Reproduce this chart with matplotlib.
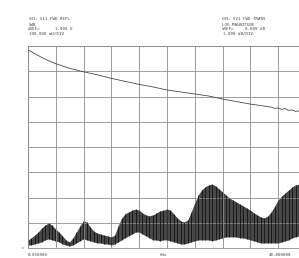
import matplotlib
matplotlib.use("Agg")
import matplotlib.pyplot as plt
import numpy as np

# CH1: S11 SWR (noisy lower trace), read as envelope every 0.5 GHz
freq_ghz = [0.05, 0.5, 1.0, 1.5, 2.0, 2.5, 3.0, 3.5, 4.0, 4.5, 5.0, 5.5, 6.0, 6.5,
            7.0, 7.5, 8.0, 8.5, 9.0, 9.5, 10.0, 10.5, 11.0, 11.5, 12.0, 12.5, 13.0,
            13.5, 14.0, 14.5, 15.0, 15.5, 16.0, 16.5, 17.0, 17.5, 18.0, 18.5, 19.0,
            19.5, 20.0, 20.5, 21.0, 21.5, 22.0, 22.5, 23.0, 23.5, 24.0, 24.5, 25.0,
            25.5, 26.0, 26.5, 27.0, 27.5, 28.0, 28.5, 29.0, 29.5, 30.0, 30.5, 31.0,
            31.5, 32.0, 32.5, 33.0, 33.5, 34.0, 34.5, 35.0, 35.5, 36.0, 36.5, 37.0,
            37.5, 38.0, 38.5, 39.0, 39.5, 40.0]
swr_hi = [1.032, 1.040, 1.051, 1.063, 1.079, 1.091, 1.099, 1.091, 1.075, 1.063, 1.048,
          1.032, 1.024, 1.040, 1.063, 1.087, 1.107, 1.103, 1.083, 1.067, 1.059, 1.055,
          1.051, 1.048, 1.044, 1.051, 1.087, 1.119, 1.135, 1.143, 1.150, 1.154, 1.150,
          1.139, 1.131, 1.127, 1.131, 1.139, 1.147, 1.150, 1.154, 1.150, 1.135, 1.119,
          1.107, 1.103, 1.111, 1.143, 1.178, 1.210, 1.230, 1.242, 1.250, 1.253, 1.246,
          1.234, 1.222, 1.210, 1.198, 1.190, 1.182, 1.174, 1.166, 1.158, 1.150, 1.139,
          1.131, 1.123, 1.119, 1.127, 1.143, 1.166, 1.190, 1.206, 1.218, 1.230, 1.242,
          1.250, 1.253, 1.257, 1.257]
swr_lo = [1.012, 1.012, 1.016, 1.020, 1.024, 1.032, 1.036, 1.032, 1.028, 1.024, 1.016,
          1.012, 1.008, 1.012, 1.020, 1.028, 1.036, 1.032, 1.028, 1.024, 1.020, 1.020,
          1.016, 1.016, 1.012, 1.016, 1.024, 1.032, 1.040, 1.048, 1.055, 1.063, 1.063,
          1.055, 1.048, 1.040, 1.032, 1.032, 1.028, 1.032, 1.032, 1.028, 1.024, 1.020,
          1.016, 1.016, 1.020, 1.024, 1.028, 1.032, 1.032, 1.032, 1.032, 1.028, 1.032,
          1.036, 1.040, 1.044, 1.044, 1.044, 1.044, 1.040, 1.040, 1.036, 1.032, 1.028,
          1.024, 1.020, 1.020, 1.020, 1.020, 1.020, 1.020, 1.024, 1.028, 1.032, 1.040,
          1.044, 1.048, 1.048, 1.048]

# CH3: S21 log magnitude (smooth upper trace)
s21_freq = [0.05, 1, 2, 3, 4, 6, 8, 10, 12, 14, 16, 18, 20, 22, 24, 26, 28, 30, 32,
            34, 35, 35.5, 36, 36.5, 37, 37.5, 38, 38.5, 39, 39.5, 40]
s21_db = [7.85, 7.70, 7.55, 7.42, 7.30, 7.12, 6.98, 6.86, 6.72, 6.60, 6.48, 6.38,
          6.26, 6.18, 6.10, 6.02, 5.90, 5.80, 5.70, 5.62, 5.58, 5.53, 5.55, 5.49,
          5.52, 5.45, 5.47, 5.41, 5.43, 5.37, 5.36]

W, H = 299, 258
fig = plt.figure(figsize=(W / 100, H / 100), dpi=100)
fig.patch.set_facecolor("white")

# plot area: x 28..306 px (cut off at right), y 46..248 px
ax = fig.add_axes([28 / W, 10 / H, 278 / W, 202 / H])
grid_c = "#8c8c8c"
ax.set_xlim(0.05, 40.0)
ax.set_ylim(1.0, 1.8)
ax.set_xticks(np.linspace(0.05, 40.0, 11))
ax.set_yticks(np.linspace(1.0, 1.8, 9))
ax.grid(True, color=grid_c, lw=0.6)
ax.tick_params(length=0, labelbottom=False, labelleft=False)
for s in ax.spines.values():
    s.set_color(grid_c)
    s.set_linewidth(0.6)

ax.fill_between(freq_ghz, swr_lo, swr_hi, color="#333333", alpha=0.9, lw=0)
ax.vlines(freq_ghz, swr_lo, swr_hi, color="#000000", lw=0.45)

ax2 = ax.twinx()
ax2.set_ylim(0, 8)
ax2.set_yticks([])
for s in ax2.spines.values():
    s.set_visible(False)
ax2.plot(s21_freq, s21_db, color="#4a4a4a", lw=0.6)

# annotation text, placed in pixel coordinates
tc = "#444444"
fam = ["DejaVu Sans Mono", "DejaVu Sans"]
fs = 3.0


def put(x, y, s, ha="left"):
    fig.text(x / W, 1 - y / H, s, ha=ha, va="center", fontsize=fs,
             family=fam, color=tc)


put(29, 19.5, "CH1:")
put(40, 19.5, "S11 FWD REFL")
put(29, 24.5, "SWR")
put(28, 29, "\u25b7REF=")
put(55, 29, "1.000 U")
put(29, 34, "100.000 mU/DIV")

put(222, 19.5, "CH3:")
put(233, 19.5, "S21 FWD TRANS")
put(222, 24.5, "LOG MAGNITUDE")
put(222, 29, "\u25b7REF=")
put(245, 29, "0.000 dB")
put(223, 34, "1.000 dB/DIV")

put(28, 254.5, "0.050000")
put(160, 255, "GHz")
put(291, 255, "40.000000", ha="right")
put(22, 247.5, "\u25b7")

fig.savefig("out.png", dpi=100)
